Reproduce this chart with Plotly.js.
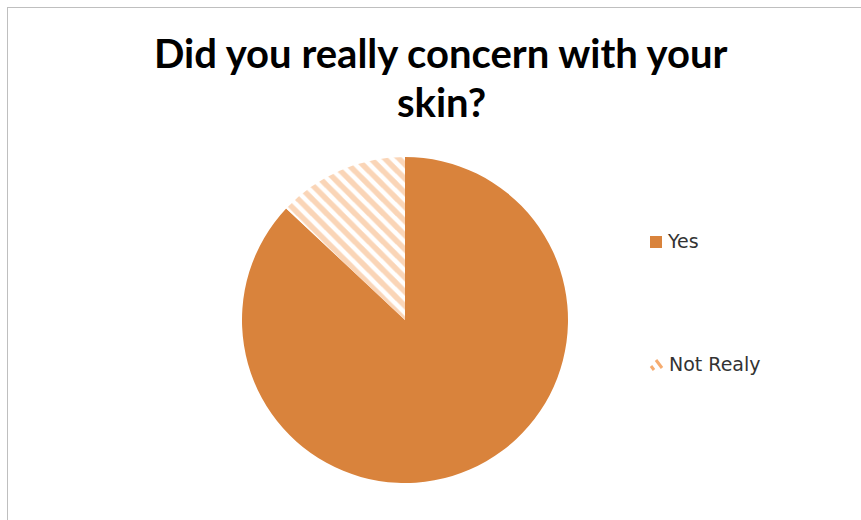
<!DOCTYPE html>
<html>
<head>
<meta charset="utf-8">
<script src="https://cdn.plot.ly/plotly-3.0.1.min.js"></script>
<style>
html,body{margin:0;padding:0;background:#fff;}
#wrap{position:relative;width:861px;height:520px;overflow:hidden;}
#frame{position:absolute;left:7px;top:7px;width:900px;height:600px;border:1.5px solid #BFBFBF;box-sizing:border-box;}
#chart{position:absolute;left:0;top:0;width:861px;height:520px;}
</style>
</head>
<body>
<div id="wrap"><div id="frame"></div><div id="chart"></div></div>
<script>
const labels = ["Yes", "Not Realy"];
const values = [87, 13];
const sliceColors = ["#D9833C", "#FFFFFF"];
const stripeColor = "#F6AC70";
const titleLines = ["Did you really concern with your", "skin?"];

const trace = {
  type: "pie",
  labels: labels,
  values: values,
  sort: false,
  direction: "clockwise",
  rotation: 0,
  textinfo: "none",
  hoverinfo: "label+percent",
  showlegend: false,
  domain: {x: [242/861, 568/861], y: [1 - 483/520, 1 - 157/520]},
  marker: {
    colors: sliceColors,
    line: {width: 0},
    pattern: {
      shape: ["", "\\"],
      fgcolor: stripeColor,
      bgcolor: "#FFFFFF",
      size: 10,
      solidity: 0.55,
      fillmode: "overlay"
    }
  }
};

const titleFont = {family: "Lato, Carlito, Calibri, sans-serif", size: 40, color: "#000000", weight: "bold"};
const legendFont = {family: "DejaVu Sans, Verdana, sans-serif", size: 19, color: "#333333"};
function px(x){return x/861;}
function py(y){return 1 - y/520;}
const layout = {
  width: 861, height: 520,
  margin: {l: 0, r: 0, t: 0, b: 0},
  paper_bgcolor: "rgba(0,0,0,0)",
  plot_bgcolor: "rgba(0,0,0,0)",
  annotations: [
    {text: titleLines[0], x: px(441), y: py(53), xref: "paper", yref: "paper", xanchor: "center", yanchor: "middle", showarrow: false, font: titleFont},
    {text: titleLines[1], x: px(441), y: py(102), xref: "paper", yref: "paper", xanchor: "center", yanchor: "middle", showarrow: false, font: titleFont},
    {text: labels[0], x: px(665), y: py(241), xref: "paper", yref: "paper", xanchor: "left", yanchor: "middle", showarrow: false, font: legendFont},
    {text: labels[1], x: px(667), y: py(364), xref: "paper", yref: "paper", xanchor: "left", yanchor: "middle", showarrow: false, font: legendFont}
  ],
  shapes: [
    {type: "rect", xref: "paper", yref: "paper", x0: px(650), x1: px(662), y0: py(248), y1: py(236), fillcolor: sliceColors[0], line: {width: 0}},
    {type: "path", xref: "paper", yref: "paper",
     path: "M " + px(651) + " " + py(366) + " L " + px(654) + " " + py(370) +
           " M " + px(656) + " " + py(360) + " L " + px(662) + " " + py(368),
     line: {color: stripeColor, width: 3}}
  ]
};

Plotly.newPlot("chart", [trace], layout, {displayModeBar: false, staticPlot: true});
</script>
</body>
</html>
